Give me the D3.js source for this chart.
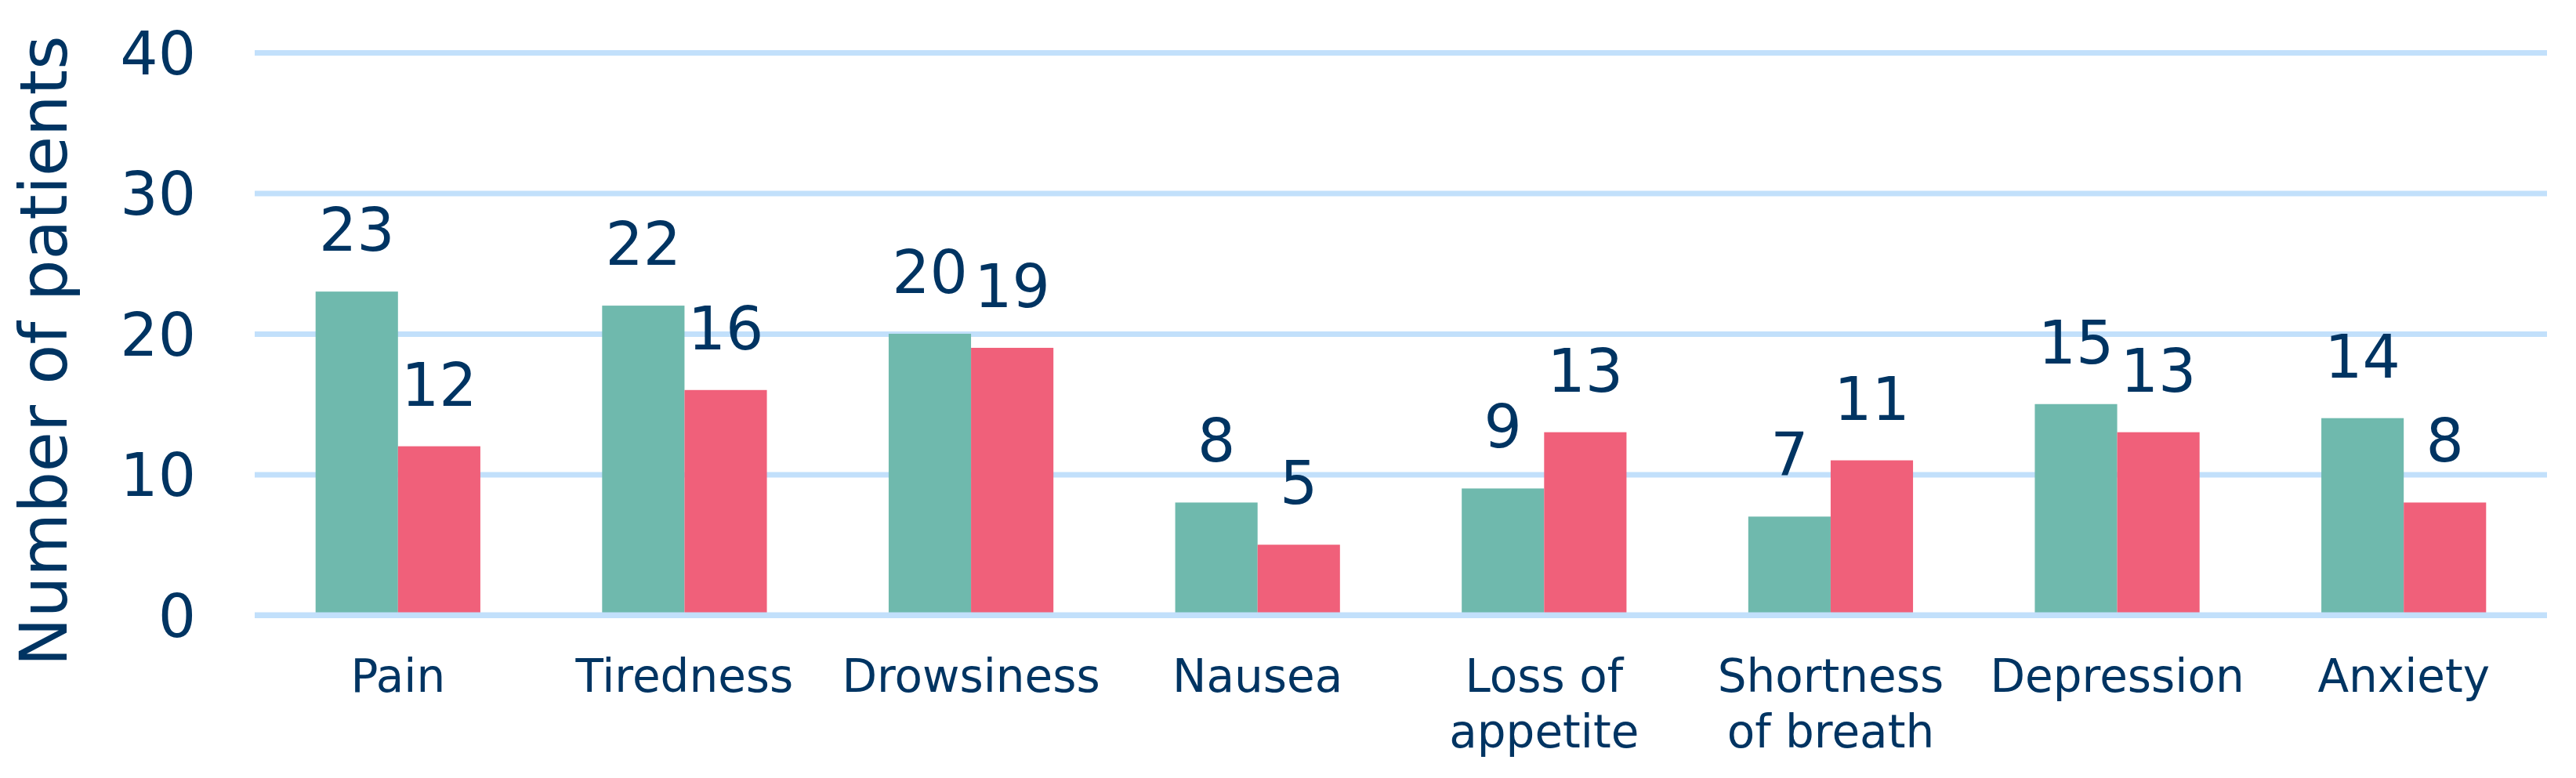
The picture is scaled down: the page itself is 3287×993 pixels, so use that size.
<!DOCTYPE html>
<html>
<head>
<meta charset="utf-8">
<script src="https://cdn.jsdelivr.net/npm/d3@7"></script>
<style>
  body { margin: 0; background: #fff; }
  text { font-family: "DejaVu Sans", Verdana, sans-serif; fill: #003462; }
</style>
</head>
<body>
<svg id="chart" width="3287" height="993"></svg>
<script>
const categories = [['Pain'], ['Tiredness'], ['Drowsiness'], ['Nausea'], ['Loss of', 'appetite'], ['Shortness', 'of breath'], ['Depression'], ['Anxiety']];
const seriesA = [23, 22, 20, 8, 9, 7, 15, 14];
const seriesB = [12, 16, 19, 5, 13, 11, 13, 8];
const yTicks = [0, 10, 20, 30, 40];
const yTitle = 'Number of patients';

const dims = {width: 3287, height: 993, left: 325, right: 3250, top: 67, bottom: 785};
const colors = {a: '#6FB9AD', b: '#F0607A', grid: '#C2E0FB'};

const svg = d3.select('#chart');

const x = d3.scaleBand()
            .domain(d3.range(categories.length))
            .range([dims.left, dims.right])
            .paddingInner(0.425)
            .paddingOuter(0.2125);
const xSub = d3.scaleBand()
               .domain(['a', 'b'])
               .range([0, x.bandwidth()]);
const y = d3.scaleLinear()
            .domain([0, 40])
            .range([dims.bottom, dims.top]);

// gridlines + tick labels via axis
const yAxis = d3.axisLeft(y)
                .tickValues(yTicks)
                .tickSize(-(dims.right - dims.left))
                .tickPadding(75);
const yAxisGroup = svg.append('g')
                      .attr('transform', `translate(${dims.left},0)`)
                      .call(yAxis);
yAxisGroup.select('.domain').remove();
yAxisGroup.selectAll('line').attr('stroke', colors.grid).attr('stroke-width', 7);
yAxisGroup.selectAll('text')
          .attr('font-size', 76)
          .attr('fill', '#003462')
          .attr('font-family', '"DejaVu Sans", Verdana, sans-serif')
          .attr('dy', '0.36em');

// bars
const groups = svg.append('g')
                  .selectAll('g')
                  .data(categories.map((c, i) => ({i, a: seriesA[i], b: seriesB[i]})))
                  .join('g')
                  .attr('transform', d => `translate(${x(d.i)},0)`);

['a', 'b'].forEach(k => {
  groups.append('rect')
        .attr('x', xSub(k))
        .attr('width', xSub.bandwidth())
        .attr('y', d => y(d[k]))
        .attr('height', d => y(0) - y(d[k]))
        .attr('fill', colors[k]);
  groups.append('text')
        .attr('x', xSub(k) + xSub.bandwidth() / 2)
        .attr('y', d => y(d[k]) - 52)
        .attr('text-anchor', 'middle')
        .attr('font-size', 76)
        .text(d => d[k]);
});

// zero line on top of bars
svg.append('line')
   .attr('x1', dims.left).attr('x2', dims.right)
   .attr('y1', y(0)).attr('y2', y(0))
   .attr('stroke', colors.grid).attr('stroke-width', 7);

// category labels
const catLabels = svg.append('g')
                     .selectAll('text')
                     .data(categories)
                     .join('text')
                     .attr('x', (d, i) => x(i) + x.bandwidth() / 2)
                     .attr('y', 883)
                     .attr('text-anchor', 'middle')
                     .attr('font-size', 58);
catLabels.selectAll('tspan')
         .data((d, i) => d.map(t => ({t, i})))
         .join('tspan')
         .attr('x', d => x(d.i) + x.bandwidth() / 2)
         .attr('dy', (d, j) => j === 0 ? 0 : 71)
         .text(d => d.t);

// y title
svg.append('text')
   .attr('transform', `translate(85,448) rotate(-90)`)
   .attr('text-anchor', 'middle')
   .attr('font-size', 83)
   .text(yTitle);
</script>
</body>
</html>
